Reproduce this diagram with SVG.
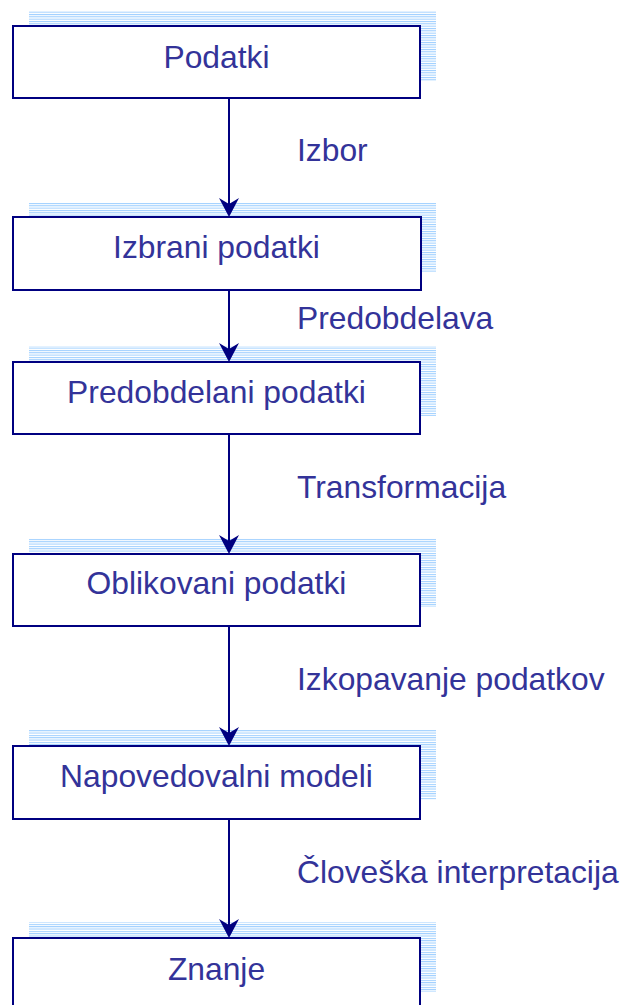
<svg xmlns="http://www.w3.org/2000/svg" width="622" height="1005" viewBox="0 0 622 1005">
<defs>
<pattern id="hatch" patternUnits="userSpaceOnUse" x="0" y="0" width="20" height="2.333">
<rect x="0" y="0" width="20" height="1" fill="#99ccff"/>
</pattern>
<style>
.sh{fill:url(#hatch);}
.box{fill:#ffffff;stroke:#000080;stroke-width:2;}
.t{font-family:"Liberation Sans",Arial,sans-serif;font-size:31.8px;fill:#333399;}
.c{text-anchor:middle;}
.ln{stroke:#000080;stroke-width:2;fill:none;}
.ah{fill:#000080;}
</style>
</defs>
<rect width="622" height="1005" fill="#ffffff"/>
<g id="n1">
<rect class="sh" x="29" y="11" width="407" height="70"/>
<rect class="box" x="13" y="26" width="407" height="72"/>
<text class="t c" x="216.5" y="68">Podatki</text>
</g>
<g id="n2">
<rect class="sh" x="29" y="203" width="407" height="69"/>
<rect class="box" x="13" y="217" width="408" height="73"/>
<text class="t c" x="216.5" y="258">Izbrani podatki</text>
</g>
<g id="n3">
<rect class="sh" x="29" y="346" width="407" height="70"/>
<rect class="box" x="13" y="362" width="407" height="72"/>
<text class="t c" x="216.5" y="403">Predobdelani podatki</text>
</g>
<g id="n4">
<rect class="sh" x="29" y="538" width="407" height="69"/>
<rect class="box" x="13" y="554" width="407" height="72"/>
<text class="t c" x="216.5" y="594">Oblikovani podatki</text>
</g>
<g id="n5">
<rect class="sh" x="29" y="730" width="407" height="70"/>
<rect class="box" x="13" y="746" width="407" height="73"/>
<text class="t c" x="216.5" y="787">Napovedovalni modeli</text>
</g>
<g id="n6">
<rect class="sh" x="29" y="922" width="407" height="70"/>
<rect class="box" x="13" y="938" width="407" height="80"/>
<text class="t c" x="216.5" y="980">Znanje</text>
</g>
<g id="connectors">
<line class="ln" x1="229" y1="99" x2="229" y2="208"/>
<polygon class="ah" points="229,217 219,198 229,204 239,198"/>
<line class="ln" x1="229" y1="291" x2="229" y2="353"/>
<polygon class="ah" points="229,362 219,343 229,349 239,343"/>
<line class="ln" x1="229" y1="435" x2="229" y2="545"/>
<polygon class="ah" points="229,554 219,535 229,541 239,535"/>
<line class="ln" x1="229" y1="627" x2="229" y2="737"/>
<polygon class="ah" points="229,746 219,727 229,733 239,727"/>
<line class="ln" x1="229" y1="820" x2="229" y2="929"/>
<polygon class="ah" points="229,938 219,919 229,925 239,919"/>
<text class="t" x="297" y="161">Izbor</text>
<text class="t" x="297" y="329">Predobdelava</text>
<text class="t" x="297" y="498">Transformacija</text>
<text class="t" x="297" y="690">Izkopavanje podatkov</text>
<text class="t" x="297" y="883">Človeška interpretacija</text>
</g>
</svg>
